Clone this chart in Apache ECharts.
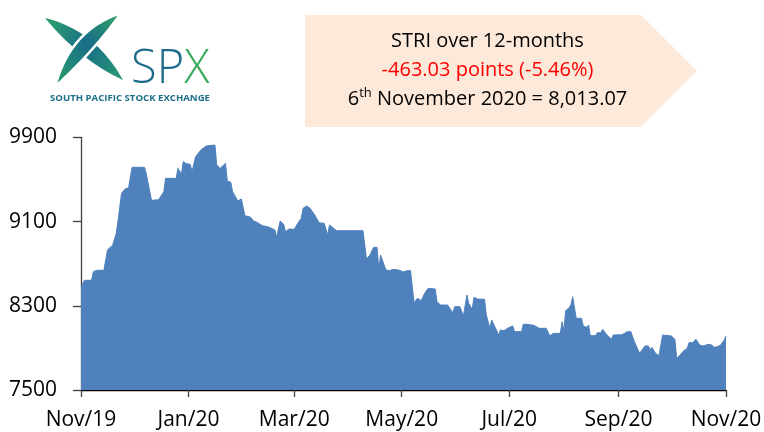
<!DOCTYPE html>
<html>
<head>
<meta charset="utf-8">
<script src="https://cdn.jsdelivr.net/npm/echarts@6/dist/echarts.min.js"></script>
<style>
html,body{margin:0;padding:0;background:#fff;}
#chart{width:764px;height:432px;}
</style>
</head>
<body>
<div id="chart"></div>
<script>
// ---- data ----
const dates = [
'2019-11-06','2019-11-08','2019-11-12','2019-11-13','2019-11-15','2019-11-19','2019-11-21','2019-11-22','2019-11-24','2019-11-26',
'2019-11-27','2019-11-29','2019-12-01','2019-12-03','2019-12-05','2019-12-12','2019-12-13','2019-12-16','2019-12-20','2019-12-23',
'2019-12-24','2019-12-30','2019-12-31','2020-01-02','2020-01-03','2020-01-05','2020-01-07','2020-01-08','2020-01-10','2020-01-13',
'2020-01-16','2020-01-21','2020-01-22','2020-01-24','2020-01-27','2020-01-28','2020-01-30','2020-01-31','2020-02-03','2020-02-05',
'2020-02-07','2020-02-10','2020-02-12','2020-02-14','2020-02-17','2020-02-20','2020-02-21','2020-02-24','2020-02-25','2020-02-26',
'2020-02-27','2020-02-29','2020-03-01','2020-03-03','2020-03-06','2020-03-08','2020-03-10','2020-03-11','2020-03-13','2020-03-15',
'2020-03-16','2020-03-18','2020-03-20','2020-03-23','2020-03-25','2020-03-26','2020-03-27','2020-03-30','2020-04-14','2020-04-16',
'2020-04-18','2020-04-20','2020-04-22','2020-04-23','2020-04-24','2020-04-27','2020-04-29','2020-05-01','2020-05-04','2020-05-07',
'2020-05-09','2020-05-11','2020-05-12','2020-05-13','2020-05-14','2020-05-15','2020-05-17','2020-05-19','2020-05-21','2020-05-25',
'2020-05-26','2020-05-28','2020-06-01','2020-06-04','2020-06-05','2020-06-08','2020-06-10','2020-06-11','2020-06-12','2020-06-13',
'2020-06-15','2020-06-16','2020-06-18','2020-06-22','2020-06-23','2020-06-25','2020-06-26','2020-06-28','2020-06-30','2020-07-01',
'2020-07-03','2020-07-05','2020-07-08','2020-07-09','2020-07-13','2020-07-14','2020-07-16','2020-07-20','2020-07-21','2020-07-23',
'2020-07-24','2020-07-27','2020-07-29','2020-07-31','2020-08-04','2020-08-05','2020-08-06','2020-08-07','2020-08-09','2020-08-10',
'2020-08-11','2020-08-12','2020-08-13','2020-08-16','2020-08-17','2020-08-19','2020-08-20','2020-08-21','2020-08-24','2020-08-25',
'2020-08-27','2020-08-28','2020-08-30','2020-08-31','2020-09-02','2020-09-03','2020-09-08','2020-09-11','2020-09-13','2020-09-15',
'2020-09-16','2020-09-18','2020-09-19','2020-09-21','2020-09-23','2020-09-24','2020-09-25','2020-09-27','2020-09-29','2020-10-01',
'2020-10-02','2020-10-06','2020-10-07','2020-10-08','2020-10-09','2020-10-11','2020-10-13','2020-10-15','2020-10-16','2020-10-18',
'2020-10-19','2020-10-20','2020-10-22','2020-10-24','2020-10-25','2020-10-27','2020-10-29','2020-10-30','2020-11-01','2020-11-03',
'2020-11-05','2020-11-06'
];
const values = [
8476,8542,8542,8624,8637,8637,8830,8814,8877,8988,
9105,9368,9409,9421,9615,9615,9558,9301,9307,9383,
9510,9510,9605,9549,9668,9649,9643,9573,9716,9779,
9817,9827,9637,9605,9653,9485,9472,9383,9295,9314,
9155,9143,9105,9092,9060,9051,9060,9020,8950,8950,
9105,9074,9003,9029,9026,9083,9131,9225,9247,9225,
9209,9152,9089,9083,8972,9067,9060,9013,9013,8744,
8782,8855,8855,8646,8782,8640,8633,8646,8640,8621,
8633,8633,8481,8329,8317,8371,8348,8418,8466,8459,
8339,8307,8307,8234,8291,8291,8203,8203,8402,8323,
8266,8380,8364,8361,8212,8086,8165,8095,8022,8070,
8063,8086,8108,8054,8054,8124,8124,8114,8127,8086,
8095,8086,8013,8038,8038,8149,8060,8253,8282,8307,
8386,8371,8181,8181,8108,8095,8117,8016,8016,8044,
8044,8076,8032,8022,7981,8022,8025,8054,8054,7959,
7949,7848,7873,7918,7918,7880,7905,7848,7826,8022,
8013,8013,8022,7981,7801,7832,7873,7896,7949,7949,
7959,7981,7927,7918,7927,7934,7927,7905,7911,7927,
7975,8013.07
];
const tickDates = ['2019-11-06','2020-01-06','2020-03-06','2020-05-06','2020-07-06','2020-09-06','2020-11-06'];
const monthNames = ['Jan','Feb','Mar','Apr','May','Jun','Jul','Aug','Sep','Oct','Nov','Dec'];
const yMin = 7500, yMax = 9900, yStep = 800;
const titleLine1 = 'STRI over 12-months';
const titleLine2 = '-463.03 points (-5.46%)';
const titleLine3a = '6', titleLine3sup = 'th', titleLine3b = ' November 2020 = 8,013.07';

// ---- chart ----
function toTs(s){ const p = s.split('-').map(Number); return Date.UTC(p[0], p[1]-1, p[2]); }
const seriesData = dates.map((d,i)=>[toTs(d), values[i]]);
const tickTs = tickDates.map(toTs);

// leaf shape (two quadratic curves) sampled to polygon points
function leaf(p0, c1, p1, c2){
  const pts=[]; const n=24;
  for(let i=0;i<=n;i++){const t=i/n,u=1-t; pts.push([u*u*p0[0]+2*u*t*c1[0]+t*t*p1[0], u*u*p0[1]+2*u*t*c1[1]+t*t*p1[1]]);}
  for(let i=1;i<n;i++){const t=i/n,u=1-t; pts.push([u*u*p1[0]+2*u*t*c2[0]+t*t*p0[0], u*u*p1[1]+2*u*t*c2[1]+t*t*p0[1]]);}
  return pts;
}

const chart = echarts.init(document.getElementById('chart'), null, {renderer:'canvas'});
const FONT = 'Open Sans';
const bladeGradA = {type:'linear', x:0, y:0, x2:1, y2:1, colorStops:[
  {offset:0, color:'#2fa36a'},{offset:0.5, color:'#176d88'},{offset:1, color:'#2a9a74'}]};
const bladeGradB = {type:'linear', x:1, y:0, x2:0, y2:1, colorStops:[
  {offset:0, color:'#35a862'},{offset:0.45, color:'#176d88'},{offset:1, color:'#2fa36a'}]};

chart.setOption({
  animation:false,
  backgroundColor:'#ffffff',
  grid:{left:81, right:38, top:137.3, bottom:42, containLabel:false, outerBoundsMode:'none'},
  xAxis:{
    type:'value',
    min: toTs(dates[0]), max: toTs(dates[dates.length-1]),
    axisLine:{show:true, lineStyle:{color:'#000', width:1.3}},
    axisTick:{show:true, length:7, customValues: tickTs, lineStyle:{color:'#404040', width:1.3}},
    axisLabel:{show:true, customValues: tickTs, margin:20, fontFamily:FONT, fontSize:21, color:'#000',
      hideOverlap:false, showMinLabel:true, showMaxLabel:true,
      formatter:function(v){ const d=new Date(v); return monthNames[d.getUTCMonth()]+'/'+String(d.getUTCFullYear()).slice(2); }},
    splitLine:{show:false}
  },
  yAxis:{
    type:'value', min:yMin, max:yMax, interval:yStep,
    axisLine:{show:true, lineStyle:{color:'#404040', width:1.3}},
    axisTick:{show:true, length:8, lineStyle:{color:'#404040', width:1.3}},
    axisLabel:{margin:24, fontFamily:FONT, fontSize:21, color:'#000', formatter:function(v){return String(v);}},
    splitLine:{show:false}
  },
  series:[{
    type:'line',
    data: seriesData,
    showSymbol:false,
    symbol:'none',
    lineStyle:{color:'#4F81BD', width:1},
    areaStyle:{color:'#4F81BD', opacity:1, origin:'start'},
    z:1
  }],
  graphic:[
    {type:'polygon', shape:{points:[[305,15],[641,15],[697,71],[641,127],[305,127]]},
      style:{fill:'#FDE9D9'}, z:0},
    {type:'text', x:487.5, y:41, style:{text:titleLine1, fill:'#000', font:'20px "Open Sans"', align:'center', verticalAlign:'middle'}},
    {type:'text', x:487.5, y:70, style:{text:titleLine2, fill:'#FF0000', font:'20px "Open Sans"', align:'center', verticalAlign:'middle'}},
    {type:'text', x:487.5, y:99, style:{
      text:'{a|'+titleLine3a+'}{s|'+titleLine3sup+'}{a|'+titleLine3b+'}',
      align:'center', verticalAlign:'middle',
      rich:{
        a:{fontFamily:FONT, fontSize:20, fill:'#000', lineHeight:24},
        s:{fontFamily:FONT, fontSize:13, fill:'#000', lineHeight:24, verticalAlign:'top', padding:[0,0,8,0]}
      }}},
    // logo
    {type:'polygon', shape:{points:leaf([45,18],[95,30],[123,80],[80,60])}, style:{fill:bladeGradA}},
    {type:'polygon', shape:{points:leaf([121,13],[70,30],[55,87],[95,50])}, style:{fill:bladeGradB, stroke:'#fff', lineWidth:2.5}},
    {type:'text', x:131, y:70, style:{
      text:'{a|SP}{b|X}', align:'left', verticalAlign:'middle',
      rich:{
        a:{fontFamily:FONT, fontSize:47, fontWeight:300, fill:'#1c6b8a'},
        b:{fontFamily:FONT, fontSize:47, fontWeight:300, fill:'#3aaa5c'}
      }}},
    {type:'text', x:130, y:98.5, style:{text:'SOUTH PACIFIC STOCK EXCHANGE', fill:'#1b6f8a',
      font:'bold 9.6px "Open Sans"', align:'center', verticalAlign:'middle'}}
  ]
});
</script>
</body>
</html>
